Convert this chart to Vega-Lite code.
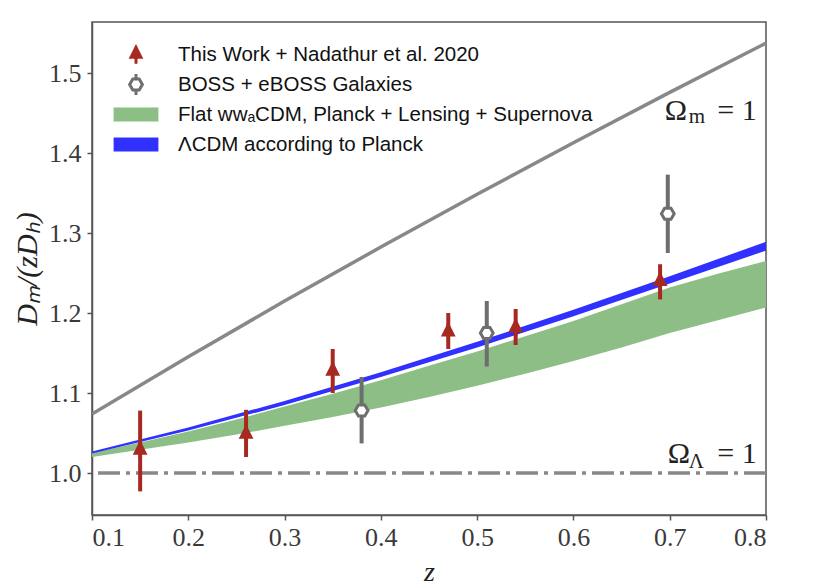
{
  "$schema": "https://vega.github.io/schema/vega-lite/v6.json",
  "width": 674,
  "height": 493,
  "autosize": {"type": "none"},
  "padding": {"left": 92, "top": 22, "right": 54, "bottom": 71},
  "background": "white",
  "config": {
    "view": {"stroke": "#555555", "strokeWidth": 1.5},
    "axis": {
      "labelFont": "Liberation Serif",
      "labelFontSize": 26,
      "labelColor": "#3a3a3a",
      "titleFont": "Liberation Serif",
      "titleColor": "#222222",
      "titleFontWeight": "normal",
      "grid": false,
      "domainColor": "#555555",
      "domainWidth": 1.5,
      "tickColor": "#555555",
      "tickSize": 5,
      "tickWidth": 1.5
    },
    "legend": {
      "gridAlign": "all"
    }
  },
  "datasets": {
    "omm": [
      {"z": 0.1, "v": 1.0738}, {"z": 0.2, "v": 1.1453}, {"z": 0.3, "v": 1.2149},
      {"z": 0.4, "v": 1.2825}, {"z": 0.5, "v": 1.3485}, {"z": 0.6, "v": 1.4129},
      {"z": 0.7, "v": 1.4758}, {"z": 0.8, "v": 1.5374}
    ],
    "green": [
      {"z": 0.10, "lo": 1.020, "hi": 1.025}, {"z": 0.15, "lo": 1.029, "hi": 1.038},
      {"z": 0.20, "lo": 1.038, "hi": 1.052}, {"z": 0.25, "lo": 1.048, "hi": 1.067},
      {"z": 0.30, "lo": 1.059, "hi": 1.083}, {"z": 0.35, "lo": 1.070, "hi": 1.099},
      {"z": 0.40, "lo": 1.082, "hi": 1.116}, {"z": 0.45, "lo": 1.095, "hi": 1.134},
      {"z": 0.50, "lo": 1.109, "hi": 1.152}, {"z": 0.55, "lo": 1.124, "hi": 1.171},
      {"z": 0.60, "lo": 1.140, "hi": 1.190}, {"z": 0.65, "lo": 1.157, "hi": 1.211},
      {"z": 0.70, "lo": 1.175, "hi": 1.232}, {"z": 0.75, "lo": 1.191, "hi": 1.249},
      {"z": 0.80, "lo": 1.207, "hi": 1.265}
    ],
    "blue": [
      {"z": 0.1, "lo": 1.0245, "hi": 1.027}, {"z": 0.2, "lo": 1.053, "hi": 1.057},
      {"z": 0.3, "lo": 1.085, "hi": 1.090}, {"z": 0.4, "lo": 1.120, "hi": 1.126},
      {"z": 0.5, "lo": 1.157, "hi": 1.164}, {"z": 0.6, "lo": 1.196, "hi": 1.204},
      {"z": 0.7, "lo": 1.237, "hi": 1.246}, {"z": 0.8, "lo": 1.278, "hi": 1.289}
    ],
    "base": [{"y": 1.0}],
    "pts": [
      {"series": "This Work + Nadathur et al. 2020", "z": 0.15, "y": 1.028, "lo": 0.977, "hi": 1.078},
      {"series": "This Work + Nadathur et al. 2020", "z": 0.26, "y": 1.048, "lo": 1.020, "hi": 1.079},
      {"series": "This Work + Nadathur et al. 2020", "z": 0.35, "y": 1.127, "lo": 1.100, "hi": 1.155},
      {"series": "This Work + Nadathur et al. 2020", "z": 0.47, "y": 1.176, "lo": 1.155, "hi": 1.200},
      {"series": "This Work + Nadathur et al. 2020", "z": 0.54, "y": 1.181, "lo": 1.160, "hi": 1.205},
      {"series": "This Work + Nadathur et al. 2020", "z": 0.69, "y": 1.239, "lo": 1.217, "hi": 1.261},
      {"series": "BOSS + eBOSS Galaxies", "z": 0.38, "y": 1.078, "lo": 1.037, "hi": 1.120},
      {"series": "BOSS + eBOSS Galaxies", "z": 0.51, "y": 1.175, "lo": 1.133, "hi": 1.215},
      {"series": "BOSS + eBOSS Galaxies", "z": 0.698, "y": 1.324, "lo": 1.275, "hi": 1.373}
    ],
    "annBig": [
      {"z": 0.6948, "y": 1.441, "t": "Ω"},
      {"z": 0.698, "y": 1.0125, "t": "Ω"}
    ],
    "annSub": [
      {"z": 0.7197, "y": 1.4375, "t": "m"},
      {"z": 0.7197, "y": 1.006, "t": "Λ"}
    ],
    "annEq": [
      {"z": 0.7904, "y": 1.441, "t": "= 1"},
      {"z": 0.7904, "y": 1.0125, "t": "= 1"}
    ]
  },
  "layer": [
    {
      "data": {"name": "green"},
      "mark": {"type": "area", "color": "#8cbe86", "opacity": 1},
      "encoding": {
        "x": {"field": "z", "type": "quantitative",
              "scale": {"domain": [0.1, 0.8], "nice": false, "zero": false},
              "axis": {"values": [0.1, 0.2, 0.3, 0.4, 0.5, 0.6, 0.7, 0.8], "format": ".1f",
                       "title": "z", "titleFontStyle": "italic", "titleFontSize": 28,
                       "labelPadding": 4, "titlePadding": 8}},
        "y": {"field": "lo", "type": "quantitative",
              "scale": {"domain": [0.9475, 1.5638], "nice": false, "zero": false},
              "axis": {"values": [1.0, 1.1, 1.2, 1.3, 1.4, 1.5], "format": ".1f",
                       "title": "Dₘ/(zDₕ)", "titleFontStyle": "italic", "titleFontSize": 30,
                       "labelPadding": 6, "titlePadding": 6}},
        "y2": {"field": "hi"}
      }
    },
    {
      "data": {"name": "blue"},
      "mark": {"type": "area", "color": "#3030ff", "opacity": 1},
      "encoding": {
        "x": {"field": "z", "type": "quantitative"},
        "y": {"field": "lo", "type": "quantitative"},
        "y2": {"field": "hi"}
      }
    },
    {
      "data": {"name": "omm"},
      "mark": {"type": "line", "color": "#888888", "strokeWidth": 3.5, "clip": true},
      "encoding": {
        "x": {"field": "z", "type": "quantitative"},
        "y": {"field": "v", "type": "quantitative"}
      }
    },
    {
      "data": {"name": "base"},
      "mark": {"type": "rule", "color": "#888888", "strokeWidth": 3.5, "strokeDash": [22, 6, 4, 6]},
      "encoding": {"y": {"field": "y", "type": "quantitative"}}
    },
    {
      "data": {"name": "pts"},
      "mark": {"type": "rule", "strokeWidth": 4},
      "encoding": {
        "x": {"field": "z", "type": "quantitative"},
        "y": {"field": "lo", "type": "quantitative"},
        "y2": {"field": "hi"},
        "color": {"field": "series", "type": "nominal", "legend": null,
                  "scale": {"domain": ["This Work + Nadathur et al. 2020", "BOSS + eBOSS Galaxies"],
                            "range": ["#a62a22", "#6e6e6e"]}}
      }
    },
    {
      "data": {"name": "pts"},
      "mark": {"type": "point", "size": 484, "strokeWidth": 3, "opacity": 1},
      "encoding": {
        "x": {"field": "z", "type": "quantitative"},
        "y": {"field": "y", "type": "quantitative"},
        "shape": {"field": "series", "type": "nominal",
                  "scale": {"domain": ["This Work + Nadathur et al. 2020", "BOSS + eBOSS Galaxies", "Flat wwₐCDM, Planck + Lensing + Supernova", "ΛCDM according to Planck"],
                            "range": ["M0,-0.75V0.85M0,-0.65L0.45,0.25L-0.45,0.25Z",
                                      "M0,-0.95V-0.5M0,0.5V0.95M0.58,0L0.29,0.5L-0.29,0.5L-0.58,0L-0.29,-0.5L0.29,-0.5Z",
                                      "M-1.9,-0.5H1.9V0.5H-1.9Z",
                                      "M-1.9,-0.5H1.9V0.5H-1.9Z"]},
                  "legend": {"title": null, "orient": "none", "legendX": 31.5, "legendY": 20, "padding": 0,
                             "symbolSize": 484, "symbolStrokeWidth": 3, "symbolOpacity": 1,
                             "labelFont": "Liberation Sans", "labelFontSize": 20.5, "labelColor": "#111111",
                             "labelOffset": 29.5, "labelLimit": 600, "rowPadding": -3}},
        "fill": {"field": "series", "type": "nominal",
                 "scale": {"domain": ["This Work + Nadathur et al. 2020", "BOSS + eBOSS Galaxies", "Flat wwₐCDM, Planck + Lensing + Supernova", "ΛCDM according to Planck"],
                           "range": ["#a62a22", "#ffffff", "#8cbe86", "#3030ff"]},
                 "legend": {"title": null, "orient": "none", "legendX": 31.5, "legendY": 20, "padding": 0,
                            "symbolSize": 484, "symbolStrokeWidth": 3, "symbolOpacity": 1,
                            "labelFont": "Liberation Sans", "labelFontSize": 20.5, "labelColor": "#111111",
                            "labelOffset": 29.5, "labelLimit": 600, "rowPadding": -3}},
        "stroke": {"field": "series", "type": "nominal",
                   "scale": {"domain": ["This Work + Nadathur et al. 2020", "BOSS + eBOSS Galaxies", "Flat wwₐCDM, Planck + Lensing + Supernova", "ΛCDM according to Planck"],
                             "range": ["#a62a22", "#6e6e6e", "#8cbe86", "#3030ff"]},
                   "legend": {"title": null, "orient": "none", "legendX": 31.5, "legendY": 20, "padding": 0,
                              "symbolSize": 484, "symbolStrokeWidth": 3, "symbolOpacity": 1,
                              "labelFont": "Liberation Sans", "labelFontSize": 20.5, "labelColor": "#111111",
                              "labelOffset": 29.5, "labelLimit": 600, "rowPadding": -3}}
      }
    },
    {
      "data": {"name": "annBig"},
      "mark": {"type": "text", "font": "Liberation Serif", "fontSize": 30, "align": "left", "baseline": "alphabetic", "color": "#222222"},
      "encoding": {
        "x": {"field": "z", "type": "quantitative"},
        "y": {"field": "y", "type": "quantitative"},
        "text": {"field": "t"}
      }
    },
    {
      "data": {"name": "annSub"},
      "mark": {"type": "text", "font": "Liberation Serif", "fontSize": 21, "align": "left", "baseline": "alphabetic", "color": "#222222"},
      "encoding": {
        "x": {"field": "z", "type": "quantitative"},
        "y": {"field": "y", "type": "quantitative"},
        "text": {"field": "t"}
      }
    },
    {
      "data": {"name": "annEq"},
      "mark": {"type": "text", "font": "Liberation Serif", "fontSize": 30, "align": "right", "baseline": "alphabetic", "color": "#222222"},
      "encoding": {
        "x": {"field": "z", "type": "quantitative"},
        "y": {"field": "y", "type": "quantitative"},
        "text": {"field": "t"}
      }
    }
  ]
}
